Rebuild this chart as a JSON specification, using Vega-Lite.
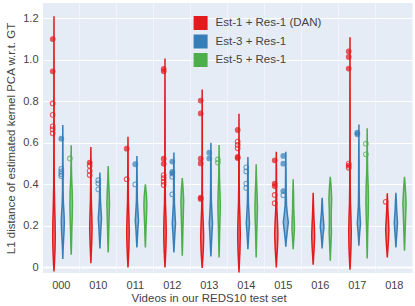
{
"$schema": "https://vega.github.io/schema/vega-lite/v6.json",
"padding": {"left": 5, "top": 3, "right": 2, "bottom": 0},
"data": {"values": [
{"v":"000","m":"Est-1 + Res-1 (DAN)","y":-0.02,"d":0},{"v":"000","m":"Est-1 + Res-1 (DAN)","y":0.02,"d":1.0},{"v":"000","m":"Est-1 + Res-1 (DAN)","y":0.08,"d":2.2},{"v":"000","m":"Est-1 + Res-1 (DAN)","y":0.15,"d":2.8},{"v":"000","m":"Est-1 + Res-1 (DAN)","y":0.22,"d":2.4},{"v":"000","m":"Est-1 + Res-1 (DAN)","y":0.3,"d":1.4},{"v":"000","m":"Est-1 + Res-1 (DAN)","y":0.4,"d":0.6},{"v":"000","m":"Est-1 + Res-1 (DAN)","y":0.55,"d":0.35},{"v":"000","m":"Est-1 + Res-1 (DAN)","y":0.8,"d":0.3},{"v":"000","m":"Est-1 + Res-1 (DAN)","y":1.0,"d":0.2},{"v":"000","m":"Est-1 + Res-1 (DAN)","y":1.21,"d":0},
{"v":"000","m":"Est-3 + Res-1","y":0.04,"d":0},{"v":"000","m":"Est-3 + Res-1","y":0.08,"d":0.5},{"v":"000","m":"Est-3 + Res-1","y":0.13,"d":1.6},{"v":"000","m":"Est-3 + Res-1","y":0.18,"d":2.8},{"v":"000","m":"Est-3 + Res-1","y":0.22,"d":3.3},{"v":"000","m":"Est-3 + Res-1","y":0.26,"d":2.6},{"v":"000","m":"Est-3 + Res-1","y":0.31,"d":1.3},{"v":"000","m":"Est-3 + Res-1","y":0.37,"d":0.6},{"v":"000","m":"Est-3 + Res-1","y":0.45,"d":0.6},{"v":"000","m":"Est-3 + Res-1","y":0.55,"d":0.3},{"v":"000","m":"Est-3 + Res-1","y":0.686,"d":0},
{"v":"000","m":"Est-5 + Res-1","y":0.061,"d":0},{"v":"000","m":"Est-5 + Res-1","y":0.1,"d":0.6},{"v":"000","m":"Est-5 + Res-1","y":0.18,"d":1.4},{"v":"000","m":"Est-5 + Res-1","y":0.25,"d":2.4},{"v":"000","m":"Est-5 + Res-1","y":0.31,"d":2.8},{"v":"000","m":"Est-5 + Res-1","y":0.37,"d":2.2},{"v":"000","m":"Est-5 + Res-1","y":0.43,"d":1.0},{"v":"000","m":"Est-5 + Res-1","y":0.5,"d":0.4},{"v":"000","m":"Est-5 + Res-1","y":0.588,"d":0},
{"v":"010","m":"Est-1 + Res-1 (DAN)","y":0.02,"d":0},{"v":"010","m":"Est-1 + Res-1 (DAN)","y":0.06,"d":0.7},{"v":"010","m":"Est-1 + Res-1 (DAN)","y":0.12,"d":1.8},{"v":"010","m":"Est-1 + Res-1 (DAN)","y":0.19,"d":2.6},{"v":"010","m":"Est-1 + Res-1 (DAN)","y":0.25,"d":2.0},{"v":"010","m":"Est-1 + Res-1 (DAN)","y":0.32,"d":1.0},{"v":"010","m":"Est-1 + Res-1 (DAN)","y":0.4,"d":0.5},{"v":"010","m":"Est-1 + Res-1 (DAN)","y":0.5,"d":0.35},{"v":"010","m":"Est-1 + Res-1 (DAN)","y":0.58,"d":0},
{"v":"010","m":"Est-3 + Res-1","y":0.091,"d":0},{"v":"010","m":"Est-3 + Res-1","y":0.13,"d":0.8},{"v":"010","m":"Est-3 + Res-1","y":0.18,"d":2.0},{"v":"010","m":"Est-3 + Res-1","y":0.235,"d":3.5},{"v":"010","m":"Est-3 + Res-1","y":0.28,"d":2.2},{"v":"010","m":"Est-3 + Res-1","y":0.33,"d":1.0},{"v":"010","m":"Est-3 + Res-1","y":0.39,"d":0.6},{"v":"010","m":"Est-3 + Res-1","y":0.457,"d":0},
{"v":"010","m":"Est-5 + Res-1","y":0.072,"d":0},{"v":"010","m":"Est-5 + Res-1","y":0.11,"d":0.6},{"v":"010","m":"Est-5 + Res-1","y":0.18,"d":1.3},{"v":"010","m":"Est-5 + Res-1","y":0.25,"d":2.2},{"v":"010","m":"Est-5 + Res-1","y":0.31,"d":2.8},{"v":"010","m":"Est-5 + Res-1","y":0.37,"d":2.0},{"v":"010","m":"Est-5 + Res-1","y":0.42,"d":0.9},{"v":"010","m":"Est-5 + Res-1","y":0.488,"d":0},
{"v":"011","m":"Est-1 + Res-1 (DAN)","y":0,"d":0},{"v":"011","m":"Est-1 + Res-1 (DAN)","y":0.04,"d":0.9},{"v":"011","m":"Est-1 + Res-1 (DAN)","y":0.1,"d":2.1},{"v":"011","m":"Est-1 + Res-1 (DAN)","y":0.17,"d":2.8},{"v":"011","m":"Est-1 + Res-1 (DAN)","y":0.24,"d":2.1},{"v":"011","m":"Est-1 + Res-1 (DAN)","y":0.31,"d":1.0},{"v":"011","m":"Est-1 + Res-1 (DAN)","y":0.4,"d":0.5},{"v":"011","m":"Est-1 + Res-1 (DAN)","y":0.5,"d":0.35},{"v":"011","m":"Est-1 + Res-1 (DAN)","y":0.63,"d":0},
{"v":"011","m":"Est-3 + Res-1","y":0.096,"d":0},{"v":"011","m":"Est-3 + Res-1","y":0.13,"d":0.8},{"v":"011","m":"Est-3 + Res-1","y":0.18,"d":2.0},{"v":"011","m":"Est-3 + Res-1","y":0.225,"d":3.5},{"v":"011","m":"Est-3 + Res-1","y":0.27,"d":2.3},{"v":"011","m":"Est-3 + Res-1","y":0.32,"d":1.0},{"v":"011","m":"Est-3 + Res-1","y":0.39,"d":0.6},{"v":"011","m":"Est-3 + Res-1","y":0.46,"d":0.4},{"v":"011","m":"Est-3 + Res-1","y":0.537,"d":0},
{"v":"011","m":"Est-5 + Res-1","y":0.096,"d":0},{"v":"011","m":"Est-5 + Res-1","y":0.13,"d":0.6},{"v":"011","m":"Est-5 + Res-1","y":0.2,"d":1.5},{"v":"011","m":"Est-5 + Res-1","y":0.26,"d":2.6},{"v":"011","m":"Est-5 + Res-1","y":0.3,"d":3.2},{"v":"011","m":"Est-5 + Res-1","y":0.34,"d":2.6},{"v":"011","m":"Est-5 + Res-1","y":0.37,"d":1.4},{"v":"011","m":"Est-5 + Res-1","y":0.4,"d":0},
{"v":"012","m":"Est-1 + Res-1 (DAN)","y":0,"d":0},{"v":"012","m":"Est-1 + Res-1 (DAN)","y":0.04,"d":0.9},{"v":"012","m":"Est-1 + Res-1 (DAN)","y":0.1,"d":2.1},{"v":"012","m":"Est-1 + Res-1 (DAN)","y":0.17,"d":2.8},{"v":"012","m":"Est-1 + Res-1 (DAN)","y":0.24,"d":2.1},{"v":"012","m":"Est-1 + Res-1 (DAN)","y":0.31,"d":1.0},{"v":"012","m":"Est-1 + Res-1 (DAN)","y":0.4,"d":0.5},{"v":"012","m":"Est-1 + Res-1 (DAN)","y":0.55,"d":0.35},{"v":"012","m":"Est-1 + Res-1 (DAN)","y":0.75,"d":0.25},{"v":"012","m":"Est-1 + Res-1 (DAN)","y":1.006,"d":0},
{"v":"012","m":"Est-3 + Res-1","y":0.072,"d":0},{"v":"012","m":"Est-3 + Res-1","y":0.11,"d":0.8},{"v":"012","m":"Est-3 + Res-1","y":0.16,"d":2.0},{"v":"012","m":"Est-3 + Res-1","y":0.21,"d":3.5},{"v":"012","m":"Est-3 + Res-1","y":0.26,"d":2.3},{"v":"012","m":"Est-3 + Res-1","y":0.31,"d":1.1},{"v":"012","m":"Est-3 + Res-1","y":0.38,"d":0.6},{"v":"012","m":"Est-3 + Res-1","y":0.46,"d":0.5},{"v":"012","m":"Est-3 + Res-1","y":0.553,"d":0},
{"v":"012","m":"Est-5 + Res-1","y":0.056,"d":0},{"v":"012","m":"Est-5 + Res-1","y":0.1,"d":0.6},{"v":"012","m":"Est-5 + Res-1","y":0.17,"d":1.2},{"v":"012","m":"Est-5 + Res-1","y":0.25,"d":2.2},{"v":"012","m":"Est-5 + Res-1","y":0.32,"d":3.0},{"v":"012","m":"Est-5 + Res-1","y":0.37,"d":2.0},{"v":"012","m":"Est-5 + Res-1","y":0.4,"d":1.0},{"v":"012","m":"Est-5 + Res-1","y":0.43,"d":0},
{"v":"013","m":"Est-1 + Res-1 (DAN)","y":-0.003,"d":0},{"v":"013","m":"Est-1 + Res-1 (DAN)","y":0.03,"d":1.0},{"v":"013","m":"Est-1 + Res-1 (DAN)","y":0.08,"d":2.4},{"v":"013","m":"Est-1 + Res-1 (DAN)","y":0.145,"d":3.2},{"v":"013","m":"Est-1 + Res-1 (DAN)","y":0.21,"d":2.4},{"v":"013","m":"Est-1 + Res-1 (DAN)","y":0.28,"d":1.1},{"v":"013","m":"Est-1 + Res-1 (DAN)","y":0.36,"d":0.5},{"v":"013","m":"Est-1 + Res-1 (DAN)","y":0.5,"d":0.35},{"v":"013","m":"Est-1 + Res-1 (DAN)","y":0.7,"d":0.25},{"v":"013","m":"Est-1 + Res-1 (DAN)","y":0.857,"d":0},
{"v":"013","m":"Est-3 + Res-1","y":0.053,"d":0},{"v":"013","m":"Est-3 + Res-1","y":0.09,"d":0.8},{"v":"013","m":"Est-3 + Res-1","y":0.15,"d":2.0},{"v":"013","m":"Est-3 + Res-1","y":0.21,"d":3.5},{"v":"013","m":"Est-3 + Res-1","y":0.26,"d":2.3},{"v":"013","m":"Est-3 + Res-1","y":0.32,"d":1.0},{"v":"013","m":"Est-3 + Res-1","y":0.4,"d":0.6},{"v":"013","m":"Est-3 + Res-1","y":0.5,"d":0.4},{"v":"013","m":"Est-3 + Res-1","y":0.6,"d":0},
{"v":"013","m":"Est-5 + Res-1","y":0.048,"d":0},{"v":"013","m":"Est-5 + Res-1","y":0.09,"d":0.5},{"v":"013","m":"Est-5 + Res-1","y":0.17,"d":1.2},{"v":"013","m":"Est-5 + Res-1","y":0.25,"d":2.2},{"v":"013","m":"Est-5 + Res-1","y":0.3,"d":2.6},{"v":"013","m":"Est-5 + Res-1","y":0.36,"d":2.0},{"v":"013","m":"Est-5 + Res-1","y":0.43,"d":0.9},{"v":"013","m":"Est-5 + Res-1","y":0.5,"d":0.4},{"v":"013","m":"Est-5 + Res-1","y":0.59,"d":0},
{"v":"014","m":"Est-1 + Res-1 (DAN)","y":-0.024,"d":0},{"v":"014","m":"Est-1 + Res-1 (DAN)","y":0.02,"d":0.9},{"v":"014","m":"Est-1 + Res-1 (DAN)","y":0.08,"d":2.1},{"v":"014","m":"Est-1 + Res-1 (DAN)","y":0.16,"d":2.8},{"v":"014","m":"Est-1 + Res-1 (DAN)","y":0.24,"d":2.1},{"v":"014","m":"Est-1 + Res-1 (DAN)","y":0.31,"d":1.0},{"v":"014","m":"Est-1 + Res-1 (DAN)","y":0.4,"d":0.5},{"v":"014","m":"Est-1 + Res-1 (DAN)","y":0.55,"d":0.4},{"v":"014","m":"Est-1 + Res-1 (DAN)","y":0.74,"d":0},
{"v":"014","m":"Est-3 + Res-1","y":0.088,"d":0},{"v":"014","m":"Est-3 + Res-1","y":0.12,"d":0.8},{"v":"014","m":"Est-3 + Res-1","y":0.17,"d":2.0},{"v":"014","m":"Est-3 + Res-1","y":0.21,"d":3.5},{"v":"014","m":"Est-3 + Res-1","y":0.26,"d":2.3},{"v":"014","m":"Est-3 + Res-1","y":0.31,"d":1.1},{"v":"014","m":"Est-3 + Res-1","y":0.38,"d":0.7},{"v":"014","m":"Est-3 + Res-1","y":0.46,"d":0.5},{"v":"014","m":"Est-3 + Res-1","y":0.532,"d":0},
{"v":"014","m":"Est-5 + Res-1","y":0.048,"d":0},{"v":"014","m":"Est-5 + Res-1","y":0.09,"d":0.5},{"v":"014","m":"Est-5 + Res-1","y":0.16,"d":1.2},{"v":"014","m":"Est-5 + Res-1","y":0.23,"d":2.2},{"v":"014","m":"Est-5 + Res-1","y":0.29,"d":2.8},{"v":"014","m":"Est-5 + Res-1","y":0.35,"d":2.0},{"v":"014","m":"Est-5 + Res-1","y":0.42,"d":0.8},{"v":"014","m":"Est-5 + Res-1","y":0.497,"d":0},
{"v":"015","m":"Est-1 + Res-1 (DAN)","y":0,"d":0},{"v":"015","m":"Est-1 + Res-1 (DAN)","y":0.04,"d":1.0},{"v":"015","m":"Est-1 + Res-1 (DAN)","y":0.1,"d":2.6},{"v":"015","m":"Est-1 + Res-1 (DAN)","y":0.16,"d":3.5},{"v":"015","m":"Est-1 + Res-1 (DAN)","y":0.22,"d":2.6},{"v":"015","m":"Est-1 + Res-1 (DAN)","y":0.28,"d":1.2},{"v":"015","m":"Est-1 + Res-1 (DAN)","y":0.35,"d":0.6},{"v":"015","m":"Est-1 + Res-1 (DAN)","y":0.45,"d":0.4},{"v":"015","m":"Est-1 + Res-1 (DAN)","y":0.557,"d":0},
{"v":"015","m":"Est-3 + Res-1","y":0.1,"d":0},{"v":"015","m":"Est-3 + Res-1","y":0.13,"d":1.0},{"v":"015","m":"Est-3 + Res-1","y":0.17,"d":3.0},{"v":"015","m":"Est-3 + Res-1","y":0.217,"d":5.5},{"v":"015","m":"Est-3 + Res-1","y":0.25,"d":3.6},{"v":"015","m":"Est-3 + Res-1","y":0.3,"d":1.5},{"v":"015","m":"Est-3 + Res-1","y":0.36,"d":0.8},{"v":"015","m":"Est-3 + Res-1","y":0.45,"d":0.5},{"v":"015","m":"Est-3 + Res-1","y":0.557,"d":0},
{"v":"015","m":"Est-5 + Res-1","y":0.088,"d":0},{"v":"015","m":"Est-5 + Res-1","y":0.12,"d":0.9},{"v":"015","m":"Est-5 + Res-1","y":0.16,"d":2.0},{"v":"015","m":"Est-5 + Res-1","y":0.19,"d":2.8},{"v":"015","m":"Est-5 + Res-1","y":0.23,"d":2.2},{"v":"015","m":"Est-5 + Res-1","y":0.28,"d":1.3},{"v":"015","m":"Est-5 + Res-1","y":0.34,"d":0.9},{"v":"015","m":"Est-5 + Res-1","y":0.38,"d":0.5},{"v":"015","m":"Est-5 + Res-1","y":0.425,"d":0},
{"v":"016","m":"Est-1 + Res-1 (DAN)","y":0.013,"d":0},{"v":"016","m":"Est-1 + Res-1 (DAN)","y":0.05,"d":1.0},{"v":"016","m":"Est-1 + Res-1 (DAN)","y":0.1,"d":2.3},{"v":"016","m":"Est-1 + Res-1 (DAN)","y":0.15,"d":3.2},{"v":"016","m":"Est-1 + Res-1 (DAN)","y":0.2,"d":2.5},{"v":"016","m":"Est-1 + Res-1 (DAN)","y":0.25,"d":1.4},{"v":"016","m":"Est-1 + Res-1 (DAN)","y":0.3,"d":0.7},{"v":"016","m":"Est-1 + Res-1 (DAN)","y":0.36,"d":0},
{"v":"016","m":"Est-3 + Res-1","y":0.091,"d":0},{"v":"016","m":"Est-3 + Res-1","y":0.12,"d":0.8},{"v":"016","m":"Est-3 + Res-1","y":0.16,"d":2.2},{"v":"016","m":"Est-3 + Res-1","y":0.195,"d":4.0},{"v":"016","m":"Est-3 + Res-1","y":0.23,"d":2.8},{"v":"016","m":"Est-3 + Res-1","y":0.27,"d":1.3},{"v":"016","m":"Est-3 + Res-1","y":0.3,"d":0.8},{"v":"016","m":"Est-3 + Res-1","y":0.336,"d":0},
{"v":"016","m":"Est-5 + Res-1","y":0.032,"d":0},{"v":"016","m":"Est-5 + Res-1","y":0.07,"d":0.6},{"v":"016","m":"Est-5 + Res-1","y":0.12,"d":1.6},{"v":"016","m":"Est-5 + Res-1","y":0.17,"d":2.5},{"v":"016","m":"Est-5 + Res-1","y":0.22,"d":2.0},{"v":"016","m":"Est-5 + Res-1","y":0.27,"d":2.2},{"v":"016","m":"Est-5 + Res-1","y":0.33,"d":3.0},{"v":"016","m":"Est-5 + Res-1","y":0.38,"d":2.0},{"v":"016","m":"Est-5 + Res-1","y":0.437,"d":0},
{"v":"017","m":"Est-1 + Res-1 (DAN)","y":-0.011,"d":0},{"v":"017","m":"Est-1 + Res-1 (DAN)","y":0.03,"d":0.9},{"v":"017","m":"Est-1 + Res-1 (DAN)","y":0.09,"d":2.1},{"v":"017","m":"Est-1 + Res-1 (DAN)","y":0.17,"d":2.8},{"v":"017","m":"Est-1 + Res-1 (DAN)","y":0.24,"d":2.1},{"v":"017","m":"Est-1 + Res-1 (DAN)","y":0.31,"d":1.0},{"v":"017","m":"Est-1 + Res-1 (DAN)","y":0.4,"d":0.5},{"v":"017","m":"Est-1 + Res-1 (DAN)","y":0.55,"d":0.35},{"v":"017","m":"Est-1 + Res-1 (DAN)","y":0.8,"d":0.25},{"v":"017","m":"Est-1 + Res-1 (DAN)","y":1.109,"d":0},
{"v":"017","m":"Est-3 + Res-1","y":0.104,"d":0},{"v":"017","m":"Est-3 + Res-1","y":0.14,"d":0.8},{"v":"017","m":"Est-3 + Res-1","y":0.18,"d":2.2},{"v":"017","m":"Est-3 + Res-1","y":0.21,"d":3.5},{"v":"017","m":"Est-3 + Res-1","y":0.25,"d":2.4},{"v":"017","m":"Est-3 + Res-1","y":0.3,"d":1.1},{"v":"017","m":"Est-3 + Res-1","y":0.38,"d":0.6},{"v":"017","m":"Est-3 + Res-1","y":0.5,"d":0.45},{"v":"017","m":"Est-3 + Res-1","y":0.689,"d":0},
{"v":"017","m":"Est-5 + Res-1","y":0.043,"d":0},{"v":"017","m":"Est-5 + Res-1","y":0.09,"d":0.5},{"v":"017","m":"Est-5 + Res-1","y":0.17,"d":1.1},{"v":"017","m":"Est-5 + Res-1","y":0.25,"d":2.2},{"v":"017","m":"Est-5 + Res-1","y":0.32,"d":2.8},{"v":"017","m":"Est-5 + Res-1","y":0.39,"d":2.2},{"v":"017","m":"Est-5 + Res-1","y":0.46,"d":1.0},{"v":"017","m":"Est-5 + Res-1","y":0.55,"d":0.5},{"v":"017","m":"Est-5 + Res-1","y":0.67,"d":0},
{"v":"018","m":"Est-1 + Res-1 (DAN)","y":0.048,"d":0},{"v":"018","m":"Est-1 + Res-1 (DAN)","y":0.08,"d":1.0},{"v":"018","m":"Est-1 + Res-1 (DAN)","y":0.13,"d":2.5},{"v":"018","m":"Est-1 + Res-1 (DAN)","y":0.18,"d":3.5},{"v":"018","m":"Est-1 + Res-1 (DAN)","y":0.22,"d":2.7},{"v":"018","m":"Est-1 + Res-1 (DAN)","y":0.27,"d":1.4},{"v":"018","m":"Est-1 + Res-1 (DAN)","y":0.31,"d":0.8},{"v":"018","m":"Est-1 + Res-1 (DAN)","y":0.357,"d":0},
{"v":"018","m":"Est-3 + Res-1","y":0.096,"d":0},{"v":"018","m":"Est-3 + Res-1","y":0.13,"d":0.9},{"v":"018","m":"Est-3 + Res-1","y":0.17,"d":2.2},{"v":"018","m":"Est-3 + Res-1","y":0.215,"d":3.5},{"v":"018","m":"Est-3 + Res-1","y":0.25,"d":2.5},{"v":"018","m":"Est-3 + Res-1","y":0.29,"d":1.4},{"v":"018","m":"Est-3 + Res-1","y":0.32,"d":0.9},{"v":"018","m":"Est-3 + Res-1","y":0.36,"d":0},
{"v":"018","m":"Est-5 + Res-1","y":0.08,"d":0},{"v":"018","m":"Est-5 + Res-1","y":0.12,"d":0.7},{"v":"018","m":"Est-5 + Res-1","y":0.18,"d":1.5},{"v":"018","m":"Est-5 + Res-1","y":0.25,"d":2.6},{"v":"018","m":"Est-5 + Res-1","y":0.31,"d":3.5},{"v":"018","m":"Est-5 + Res-1","y":0.36,"d":2.4},{"v":"018","m":"Est-5 + Res-1","y":0.4,"d":1.2},{"v":"018","m":"Est-5 + Res-1","y":0.436,"d":0},

{"v":"000","m":"Est-1 + Res-1 (DAN)","y":1.10,"t":"outlier"},{"v":"000","m":"Est-1 + Res-1 (DAN)","y":0.945,"t":"outlier"},{"v":"000","m":"Est-1 + Res-1 (DAN)","y":0.79,"t":"suspected"},{"v":"000","m":"Est-1 + Res-1 (DAN)","y":0.735,"t":"suspected"},{"v":"000","m":"Est-1 + Res-1 (DAN)","y":0.68,"t":"suspected"},{"v":"000","m":"Est-1 + Res-1 (DAN)","y":0.665,"t":"suspected"},{"v":"000","m":"Est-1 + Res-1 (DAN)","y":0.646,"t":"suspected"},
{"v":"000","m":"Est-3 + Res-1","y":0.62,"t":"outlier"},{"v":"000","m":"Est-3 + Res-1","y":0.475,"t":"suspected"},{"v":"000","m":"Est-3 + Res-1","y":0.462,"t":"suspected"},{"v":"000","m":"Est-3 + Res-1","y":0.45,"t":"suspected"},{"v":"000","m":"Est-3 + Res-1","y":0.44,"t":"suspected"},
{"v":"000","m":"Est-5 + Res-1","y":0.525,"t":"suspected"},
{"v":"010","m":"Est-1 + Res-1 (DAN)","y":0.505,"t":"outlier"},{"v":"010","m":"Est-1 + Res-1 (DAN)","y":0.49,"t":"suspected"},{"v":"010","m":"Est-1 + Res-1 (DAN)","y":0.465,"t":"suspected"},{"v":"010","m":"Est-1 + Res-1 (DAN)","y":0.445,"t":"suspected"},
{"v":"010","m":"Est-3 + Res-1","y":0.42,"t":"suspected"},{"v":"010","m":"Est-3 + Res-1","y":0.405,"t":"suspected"},{"v":"010","m":"Est-3 + Res-1","y":0.376,"t":"suspected"},
{"v":"011","m":"Est-1 + Res-1 (DAN)","y":0.572,"t":"outlier"},{"v":"011","m":"Est-1 + Res-1 (DAN)","y":0.425,"t":"suspected"},
{"v":"011","m":"Est-3 + Res-1","y":0.497,"t":"outlier"},{"v":"011","m":"Est-3 + Res-1","y":0.40,"t":"suspected"},
{"v":"012","m":"Est-1 + Res-1 (DAN)","y":0.957,"t":"outlier"},{"v":"012","m":"Est-1 + Res-1 (DAN)","y":0.945,"t":"outlier"},{"v":"012","m":"Est-1 + Res-1 (DAN)","y":0.524,"t":"outlier"},{"v":"012","m":"Est-1 + Res-1 (DAN)","y":0.499,"t":"outlier"},{"v":"012","m":"Est-1 + Res-1 (DAN)","y":0.445,"t":"suspected"},{"v":"012","m":"Est-1 + Res-1 (DAN)","y":0.43,"t":"suspected"},{"v":"012","m":"Est-1 + Res-1 (DAN)","y":0.413,"t":"suspected"},{"v":"012","m":"Est-1 + Res-1 (DAN)","y":0.397,"t":"suspected"},
{"v":"012","m":"Est-3 + Res-1","y":0.51,"t":"outlier"},{"v":"012","m":"Est-3 + Res-1","y":0.46,"t":"outlier"},{"v":"012","m":"Est-3 + Res-1","y":0.452,"t":"outlier"},{"v":"012","m":"Est-3 + Res-1","y":0.437,"t":"suspected"},{"v":"012","m":"Est-3 + Res-1","y":0.352,"t":"suspected"},
{"v":"013","m":"Est-1 + Res-1 (DAN)","y":0.804,"t":"outlier"},{"v":"013","m":"Est-1 + Res-1 (DAN)","y":0.742,"t":"outlier"},{"v":"013","m":"Est-1 + Res-1 (DAN)","y":0.524,"t":"outlier"},{"v":"013","m":"Est-1 + Res-1 (DAN)","y":0.501,"t":"outlier"},{"v":"013","m":"Est-1 + Res-1 (DAN)","y":0.336,"t":"outlier"},{"v":"013","m":"Est-1 + Res-1 (DAN)","y":0.33,"t":"outlier"},
{"v":"013","m":"Est-3 + Res-1","y":0.553,"t":"outlier"},{"v":"013","m":"Est-3 + Res-1","y":0.525,"t":"outlier"},
{"v":"013","m":"Est-5 + Res-1","y":0.52,"t":"suspected"},{"v":"013","m":"Est-5 + Res-1","y":0.505,"t":"suspected"},
{"v":"014","m":"Est-1 + Res-1 (DAN)","y":0.662,"t":"outlier"},{"v":"014","m":"Est-1 + Res-1 (DAN)","y":0.606,"t":"suspected"},{"v":"014","m":"Est-1 + Res-1 (DAN)","y":0.59,"t":"suspected"},{"v":"014","m":"Est-1 + Res-1 (DAN)","y":0.574,"t":"suspected"},{"v":"014","m":"Est-1 + Res-1 (DAN)","y":0.532,"t":"outlier"},{"v":"014","m":"Est-1 + Res-1 (DAN)","y":0.527,"t":"outlier"},
{"v":"014","m":"Est-3 + Res-1","y":0.482,"t":"suspected"},{"v":"014","m":"Est-3 + Res-1","y":0.462,"t":"suspected"},{"v":"014","m":"Est-3 + Res-1","y":0.404,"t":"suspected"},{"v":"014","m":"Est-3 + Res-1","y":0.383,"t":"suspected"},
{"v":"015","m":"Est-1 + Res-1 (DAN)","y":0.516,"t":"outlier"},{"v":"015","m":"Est-1 + Res-1 (DAN)","y":0.404,"t":"outlier"},{"v":"015","m":"Est-1 + Res-1 (DAN)","y":0.392,"t":"outlier"},{"v":"015","m":"Est-1 + Res-1 (DAN)","y":0.349,"t":"suspected"},{"v":"015","m":"Est-1 + Res-1 (DAN)","y":0.309,"t":"suspected"},
{"v":"015","m":"Est-3 + Res-1","y":0.537,"t":"outlier"},{"v":"015","m":"Est-3 + Res-1","y":0.50,"t":"outlier"},{"v":"015","m":"Est-3 + Res-1","y":0.368,"t":"outlier"},{"v":"015","m":"Est-3 + Res-1","y":0.348,"t":"suspected"},
{"v":"017","m":"Est-1 + Res-1 (DAN)","y":1.041,"t":"outlier"},{"v":"017","m":"Est-1 + Res-1 (DAN)","y":1.014,"t":"outlier"},{"v":"017","m":"Est-1 + Res-1 (DAN)","y":0.958,"t":"outlier"},{"v":"017","m":"Est-1 + Res-1 (DAN)","y":0.50,"t":"suspected"},{"v":"017","m":"Est-1 + Res-1 (DAN)","y":0.49,"t":"outlier"},{"v":"017","m":"Est-1 + Res-1 (DAN)","y":0.48,"t":"suspected"},
{"v":"017","m":"Est-3 + Res-1","y":0.649,"t":"outlier"},{"v":"017","m":"Est-3 + Res-1","y":0.641,"t":"outlier"},
{"v":"017","m":"Est-5 + Res-1","y":0.596,"t":"suspected"},{"v":"017","m":"Est-5 + Res-1","y":0.545,"t":"suspected"},
{"v":"018","m":"Est-1 + Res-1 (DAN)","y":0.316,"t":"suspected"}
]},
"facet": {"column": {"field": "v", "type": "nominal", "sort": ["000","010","011","012","013","014","015","016","017","018"], "title": null,
  "header": {"labelOrient": "bottom", "labelFontSize": 11, "labelColor": "#444", "labelFont": "Liberation Sans", "labelPadding": 4}}},
"spacing": 0,
"spec": {
  "width": 36.6,
  "height": 270,
  "encoding": {
    "y": {"field": "y", "type": "quantitative",
      "scale": {"domain": [-0.027, 1.274], "nice": false, "zero": false},
      "axis": {"title": "L1 distance of estimated kernel PCA w.r.t. GT", "values": [0, 0.2, 0.4, 0.6, 0.8, 1, 1.2],
        "labelExpr": "datum.value === 0 ? '0' : format(datum.value, '.1f')",
        "ticks": false, "domain": false, "grid": true, "gridColor": "white",
        "gridWidth": {"condition": {"test": "datum.value === 0", "value": 2}, "value": 1},
        "labelPadding": 5, "labelFontSize": 11, "labelColor": "#444", "labelFont": "Liberation Sans",
        "titleFontSize": 11.5, "titleFontWeight": "normal", "titleColor": "#444", "titleFont": "Liberation Sans", "titlePadding": 6}}
  },
  "layer": [
    {"transform": [{"filter": "datum.m === 'Est-1 + Res-1 (DAN)' && isValid(datum.d)"}],
     "mark": {"type": "area", "orient": "horizontal", "fill": "#e41a1c", "fillOpacity": 0.5, "stroke": "#e41a1c", "strokeWidth": 1.5, "xOffset": -8.6},
     "encoding": {"x": {"field": "d", "type": "quantitative", "stack": "center", "scale": {"domain": [-18.3, 18.3]}, "axis": null}}},
    {"transform": [{"filter": "datum.m === 'Est-3 + Res-1' && isValid(datum.d)"}],
     "mark": {"type": "area", "orient": "horizontal", "fill": "#377eb8", "fillOpacity": 0.5, "stroke": "#377eb8", "strokeWidth": 1.5, "xOffset": 0},
     "encoding": {"x": {"field": "d", "type": "quantitative", "stack": "center", "scale": {"domain": [-18.3, 18.3]}, "axis": null}}},
    {"transform": [{"filter": "datum.m === 'Est-5 + Res-1' && isValid(datum.d)"}],
     "mark": {"type": "area", "orient": "horizontal", "fill": "#4daf4a", "fillOpacity": 0.5, "stroke": "#4daf4a", "strokeWidth": 1.5, "xOffset": 8.6},
     "encoding": {"x": {"field": "d", "type": "quantitative", "stack": "center", "scale": {"domain": [-18.3, 18.3]}, "axis": null}}},
    {"transform": [{"filter": "datum.m === 'Est-1 + Res-1 (DAN)' && isValid(datum.t)"}],
     "mark": {"type": "point", "filled": true, "size": 22, "stroke": "#e41a1c", "strokeWidth": 1.1, "strokeOpacity": 1, "xOffset": -8.6},
     "encoding": {"x": {"datum": 0, "type": "quantitative"},
       "color": {"field": "m", "type": "nominal", "scale": {"domain": ["Est-1 + Res-1 (DAN)", "Est-3 + Res-1", "Est-5 + Res-1"], "range": ["#e41a1c", "#377eb8", "#4daf4a"]},
         "legend": {"orient": "none", "legendX": 150.6, "legendY": 13, "title": null, "symbolType": "square", "symbolSize": 196, "symbolStrokeWidth": 0, "symbolOpacity": 1, "labelFontSize": 11.5, "labelFont": "Liberation Sans", "labelColor": "#444", "labelOffset": 8, "rowPadding": 4.5, "padding": 0}},
       "fillOpacity": {"field": "t", "type": "ordinal", "scale": {"domain": ["outlier", "suspected"], "range": [1, 0]}, "legend": null}}},
    {"transform": [{"filter": "datum.m === 'Est-3 + Res-1' && isValid(datum.t)"}],
     "mark": {"type": "point", "filled": true, "size": 22, "stroke": "#377eb8", "strokeWidth": 1.1, "strokeOpacity": 1, "xOffset": 0},
     "encoding": {"x": {"datum": 0, "type": "quantitative"},
       "color": {"field": "m", "type": "nominal"},
       "fillOpacity": {"field": "t", "type": "ordinal", "legend": null}}},
    {"transform": [{"filter": "datum.m === 'Est-5 + Res-1' && isValid(datum.t)"}],
     "mark": {"type": "point", "filled": true, "size": 22, "stroke": "#4daf4a", "strokeWidth": 1.1, "strokeOpacity": 1, "xOffset": 8.6},
     "encoding": {"x": {"datum": 0, "type": "quantitative"},
       "color": {"field": "m", "type": "nominal"},
       "fillOpacity": {"field": "t", "type": "ordinal", "legend": null}}}
  ]
},
"title": {"text": "Videos in our REDS10 test set", "orient": "bottom", "anchor": "middle", "fontSize": 11.5, "fontWeight": "normal", "color": "#444", "font": "Liberation Sans", "offset": 2},
"config": {"view": {"fill": "#E5ECF6", "stroke": null}, "background": "white"}
}
